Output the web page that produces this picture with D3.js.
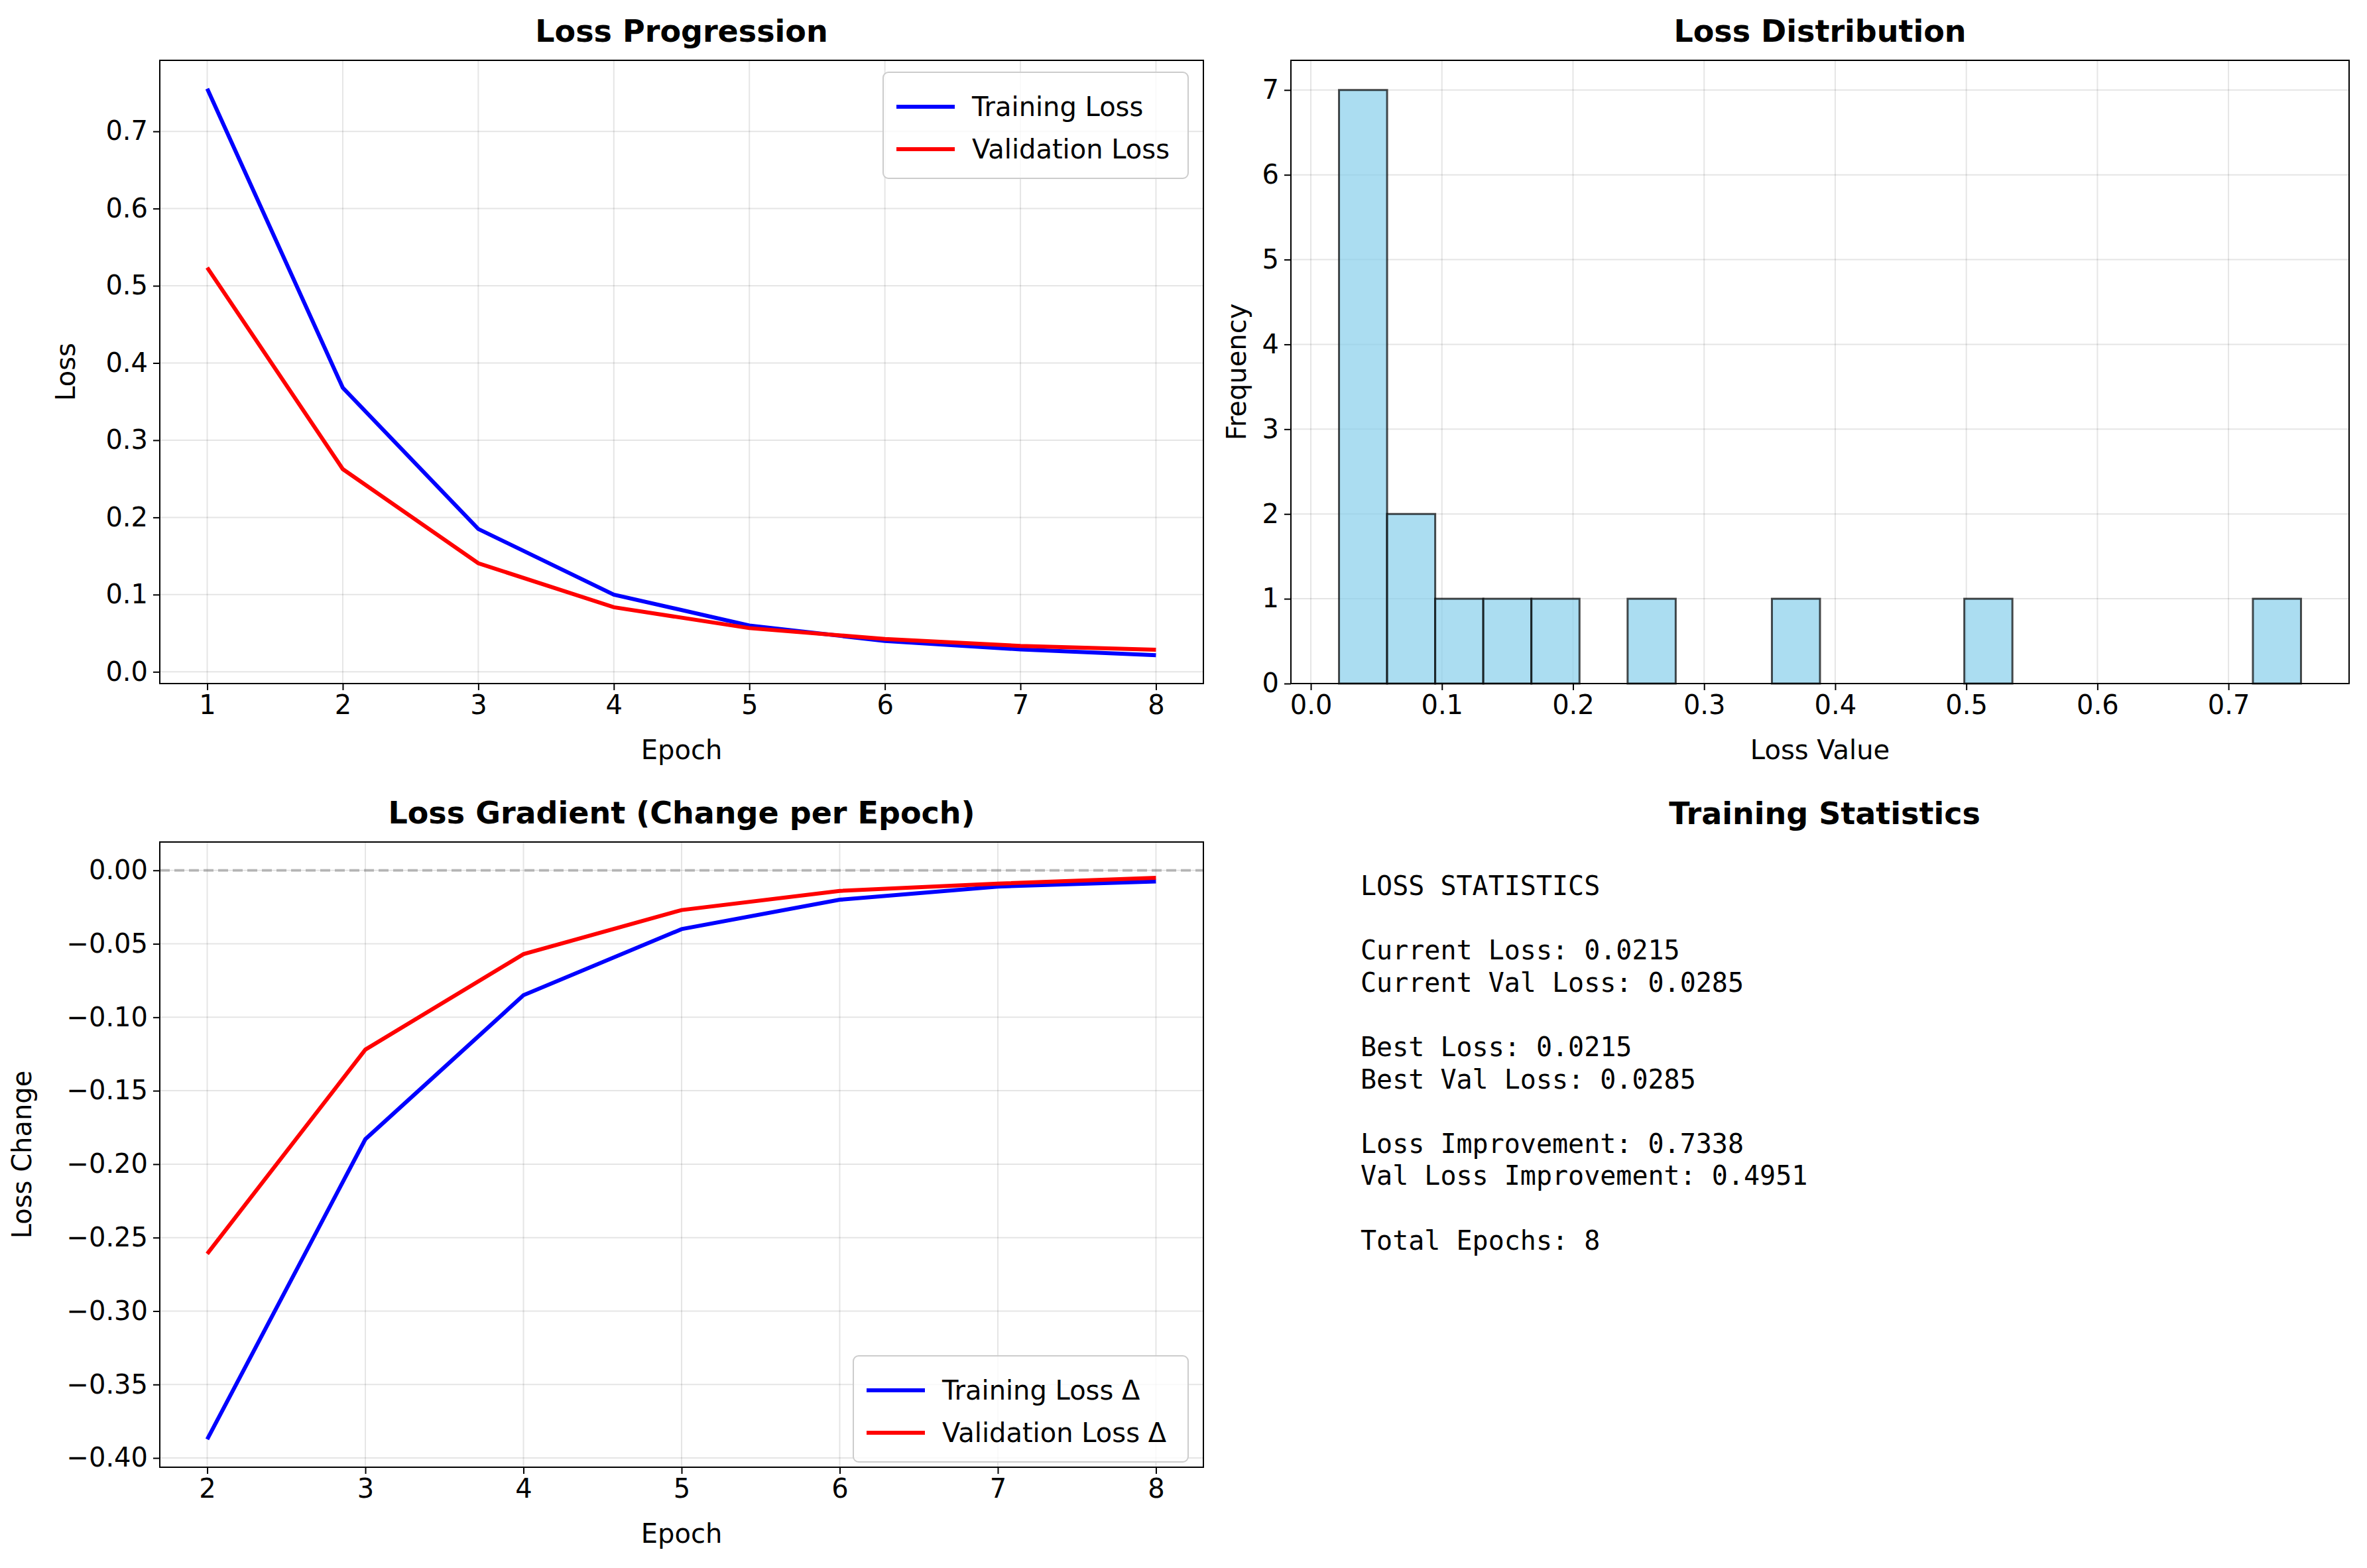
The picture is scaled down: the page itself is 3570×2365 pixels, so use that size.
<!DOCTYPE html>
<html><head><meta charset="utf-8">
<script src="https://cdn.jsdelivr.net/npm/d3@7"></script>
<style>body{margin:0;background:#fff}svg{font-family:"DejaVu Sans",sans-serif}</style>
</head><body><svg id="c" width="3570" height="2365"></svg>
<script>
const epochs=[1,2,3,4,5,6,7,8];
const trainLoss=[0.7553,0.368,0.185,0.100,0.060,0.040,0.029,0.0215];
const valLoss=[0.5236,0.2626,0.1406,0.0836,0.0566,0.0426,0.0336,0.0285];
const statsLines=["LOSS STATISTICS","","Current Loss: 0.0215","Current Val Loss: 0.0285","","Best Loss: 0.0215","Best Val Loss: 0.0285","","Loss Improvement: 0.7338","Val Loss Improvement: 0.4951","","Total Epochs: 8"];
const svg=d3.select("#c");
const FS=40;
function panel(x0,x1,y0,y1,xd,yd,xt,yt,fmtX,fmtY,title,xl,yl,ylOff){
  const g=svg.append("g");
  const x=d3.scaleLinear().domain(xd).range([x0,x1]);
  const y=d3.scaleLinear().domain(yd).range([y1,y0]);
  xt.forEach(t=>g.append("line").attr("x1",x(t)).attr("x2",x(t)).attr("y1",y0).attr("y2",y1).attr("stroke","#000").attr("stroke-opacity",0.1).attr("stroke-width",2));
  yt.forEach(t=>g.append("line").attr("y1",y(t)).attr("y2",y(t)).attr("x1",x0).attr("x2",x1).attr("stroke","#000").attr("stroke-opacity",0.1).attr("stroke-width",2));
  const ax=g.append("g").attr("transform",`translate(0,${y1})`).call(d3.axisBottom(x).tickValues(xt).tickSize(10).tickPadding(8).tickFormat(fmtX));
  const ay=g.append("g").attr("transform",`translate(${x0},0)`).call(d3.axisLeft(y).tickValues(yt).tickSize(10).tickPadding(8).tickFormat(fmtY));
  [ax,ay].forEach(a=>{a.selectAll("text").attr("font-size",FS).attr("font-family","DejaVu Sans");a.selectAll("line").attr("stroke-width",2);a.select(".domain").remove();});
  g.append("text").attr("x",(x0+x1)/2).attr("y",y0-28).attr("text-anchor","middle").attr("font-weight","bold").attr("font-size",46).text(title);
  g.append("text").attr("x",(x0+x1)/2).attr("y",y1+114).attr("text-anchor","middle").attr("font-size",FS).text(xl);
  g.append("text").attr("transform",`translate(${x0-ylOff},${(y0+y1)/2}) rotate(-90)`).attr("text-anchor","middle").attr("font-size",FS).text(yl);
  return {g,x,y,frame:()=>g.append("rect").attr("x",x0).attr("y",y0).attr("width",x1-x0).attr("height",y1-y0).attr("fill","none").attr("stroke","#000").attr("stroke-width",2)};
}
function legend(g,x,y,w,items){
  const h=items.length*64+32;
  g.append("rect").attr("x",x).attr("y",y).attr("width",w).attr("height",h).attr("rx",8).attr("fill","#fff").attr("fill-opacity",0.8).attr("stroke","#ccc").attr("stroke-width",2);
  items.forEach((it,i)=>{const yy=y+52+i*64;
    g.append("line").attr("x1",x+20).attr("x2",x+108).attr("y1",yy).attr("y2",yy).attr("stroke",it[1]).attr("stroke-width",6);
    g.append("text").attr("x",x+134).attr("y",yy+14).attr("font-size",FS).text(it[0]);});
}
const f1=d3.format(".1f"),fi=d3.format("d");
// Panel 1
const p1=panel(241,1815,91,1031,[0.65,8.35],[-0.0152,0.792],epochs,[0,0.1,0.2,0.3,0.4,0.5,0.6,0.7],fi,f1,"Loss Progression","Epoch","Loss",128);
[[trainLoss,"#0000ff"],[valLoss,"#ff0000"]].forEach(([d,c])=>p1.g.append("path").datum(d).attr("fill","none").attr("stroke",c).attr("stroke-width",6).attr("d",d3.line().x((v,i)=>p1.x(epochs[i])).y(v=>p1.y(v))));
p1.frame();
legend(p1.g,1332,91+18,460,[["Training Loss","#0000ff"],["Validation Loss","#ff0000"]]);
// Panel 2 histogram
const all=trainLoss.concat(valLoss);
const mn=d3.min(all),mx=d3.max(all),bw=(mx-mn)/20,pad=(mx-mn)*0.05;
const p2=panel(1947,3543,91,1031,[mn-pad,mx+pad],[0,7.35],[0,0.1,0.2,0.3,0.4,0.5,0.6,0.7],[0,1,2,3,4,5,6,7],f1,fi,"Loss Distribution","Loss Value","Frequency",68);
const counts=new Array(20).fill(0);
all.forEach(v=>{let k=Math.floor((v-mn)/bw);if(k>19)k=19;counts[k]++;});
counts.forEach((c,i)=>{if(!c)return;const a=mn+i*bw;p2.g.append("rect").attr("x",p2.x(a)).attr("width",p2.x(a+bw)-p2.x(a)).attr("y",p2.y(c)).attr("height",p2.y(0)-p2.y(c)).attr("fill","#87ceeb").attr("fill-opacity",0.7).attr("stroke","#000").attr("stroke-opacity",0.7).attr("stroke-width",3);});
p2.frame();
// Panel 3
const ep2=epochs.slice(1);
const dT=ep2.map((e,i)=>trainLoss[i+1]-trainLoss[i]);
const dV=ep2.map((e,i)=>valLoss[i+1]-valLoss[i]);
const p3=panel(241,1815,1270,2213,[1.7,8.3],[-0.4063,0.0193],ep2,[0,-0.05,-0.1,-0.15,-0.2,-0.25,-0.3,-0.35,-0.4],fi,d3.format(".2f"),"Loss Gradient (Change per Epoch)","Epoch","Loss Change",194);
p3.g.append("line").attr("x1",241).attr("x2",1815).attr("y1",p3.y(0)).attr("y2",p3.y(0)).attr("stroke","#808080").attr("stroke-opacity",0.5).attr("stroke-width",4).attr("stroke-dasharray","15,7");
[[dT,"#0000ff"],[dV,"#ff0000"]].forEach(([d,c])=>p3.g.append("path").datum(d).attr("fill","none").attr("stroke",c).attr("stroke-width",6).attr("d",d3.line().x((v,i)=>p3.x(ep2[i])).y(v=>p3.y(v))));
p3.frame();
legend(p3.g,1287,2045,505,[["Training Loss Δ","#0000ff"],["Validation Loss Δ","#ff0000"]]);
// Panel 4
svg.append("text").attr("x",2752).attr("y",1243).attr("text-anchor","middle").attr("font-weight","bold").attr("font-size",46).text("Training Statistics");
statsLines.forEach((s,i)=>svg.append("text").attr("x",2052).attr("y",1350+i*48.6).attr("font-family","DejaVu Sans Mono").attr("font-size",40).text(s));
</script></body></html>
